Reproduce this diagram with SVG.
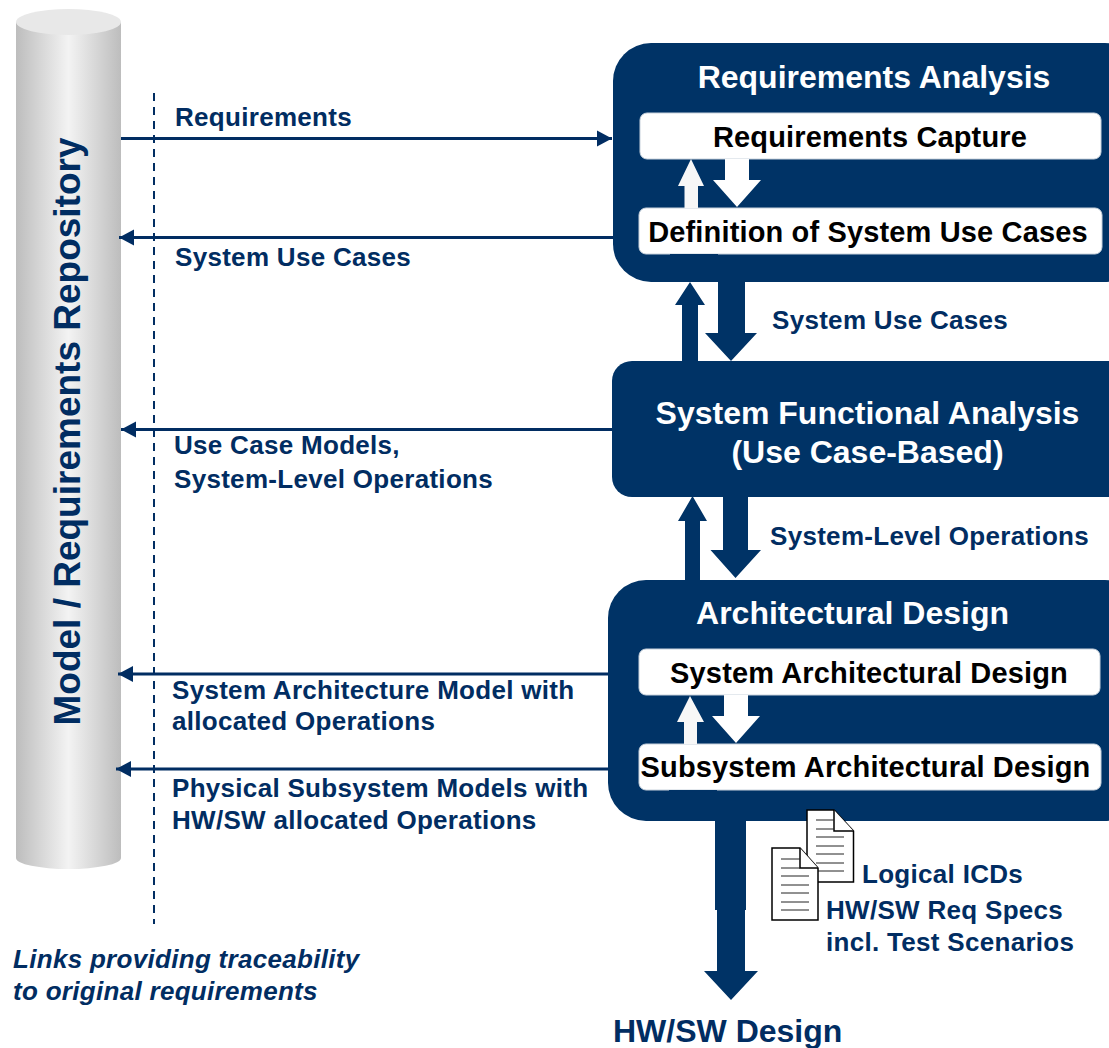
<svg xmlns="http://www.w3.org/2000/svg" width="1109" height="1048" viewBox="0 0 1109 1048">
<style>
text{font-family:"Liberation Sans",Arial,sans-serif;font-weight:bold}
.n{fill:#003366}
.lbl{fill:#012d62;font-size:26px;letter-spacing:.3px}
.t{fill:#fff;font-size:32px;text-anchor:middle}
.b{fill:#000;font-size:29px;letter-spacing:.15px;text-anchor:middle}
.w{fill:#fff;stroke:#c8d2dc;stroke-width:1}
.c{stroke:#012d62;stroke-width:3;fill:none}
.d{fill:#fff;stroke:#000;stroke-width:1.5}
.dl{stroke:#222;stroke-width:1}
</style>
<defs>
<linearGradient id="g" x1="0" x2="1" y1="0" y2="0"><stop offset="0" stop-color="#bdbdbd"/><stop offset=".5" stop-color="#f3f3f3"/><stop offset="1" stop-color="#bdbdbd"/></linearGradient>
<marker id="a" markerUnits="userSpaceOnUse" markerWidth="16" markerHeight="18" refX="15" refY="9" orient="auto-start-reverse"><path d="M0 1L15 9L0 17Z" fill="#012d62"/></marker>
</defs>
<rect width="1109" height="1048" fill="#fff"/>
<g id="repo">
<path d="M16 22V858A52.500 11 0 0 0 121 858V22Z" fill="url(#g)"/>
<ellipse cx="68.500" cy="22" rx="52.500" ry="13" fill="#e8e8e8"/>
<text transform="translate(80 725.500) rotate(-90)" fill="#012d62" font-size="37">Model / Requirements Repository</text>
</g>
<g id="connectors">
<path class="c" d="M121 138.500H612" marker-end="url(#a)"/>
<path class="c" d="M613 237.500H119" marker-end="url(#a)"/>
<path class="c" d="M612 429.500H121" marker-end="url(#a)"/>
<path class="c" d="M609 674H118" marker-end="url(#a)"/>
<path class="c" d="M609 769H116" marker-end="url(#a)"/>
<path d="M154 93V924" stroke="#012d62" stroke-width="2" stroke-dasharray="8 6" fill="none"/>
<path class="n" d="M682 361V305H675L690 282L705 305H698V361Z"/>
<path class="n" d="M718 282V333H705L731 361L757 333H745V282Z"/>
<path class="n" d="M685 580V521H678L692.500 496L707 521H700V580Z"/>
<path class="n" d="M723 497V550H710.500L735.500 578L761 550H748V497Z"/>
<path class="n" d="M715 821V910H717V971H704L731 1000L758 971H745V910H746V821Z"/>
</g>
<g id="requirements-analysis">
<rect class="n" x="613" y="43" width="530" height="239" rx="38"/>
<text class="t" x="874" y="88">Requirements Analysis</text>
<rect class="w" x="640" y="113" width="461" height="46" rx="7"/>
<text class="b" x="870" y="147">Requirements Capture</text>
<rect class="w" x="639" y="208" width="463" height="46" rx="7"/>
<text class="b" x="868" y="242">Definition of System Use Cases</text>
<path fill="#f7f7f7" d="M684.500 208V186H678L691 159L704 186H698V208Z"/>
<path fill="#fff" d="M725 159V180H713L737 207L761 180H749V159Z"/>
<path class="n" d="M670 254H718V255.500H670Z"/>
</g>
<g id="system-functional-analysis">
<rect class="n" x="612" y="361" width="530" height="136" rx="20"/>
<text class="t" x="867.500" y="424">System Functional Analysis</text>
<text class="t" x="867.500" y="463">(Use Case-Based)</text>
</g>
<g id="architectural-design">
<rect class="n" x="608" y="580" width="535" height="241" rx="38"/>
<text class="t" x="852.500" y="624">Architectural Design</text>
<rect class="w" x="639" y="649" width="461" height="46" rx="7"/>
<text class="b" x="869" y="683">System Architectural Design</text>
<rect class="w" x="639" y="744" width="462" height="46" rx="7"/>
<text class="b" x="865.500" y="777">Subsystem Architectural Design</text>
<path fill="#f7f7f7" d="M684 744V722H677L690 696L704 722H697V744Z"/>
<path fill="#fff" d="M724 695V716H712L736 743L760 716H748V695Z"/>
<path class="n" d="M669 790H717V791.500H669Z"/>
</g>
<g id="labels">
<text class="lbl" x="175" y="126">Requirements</text>
<text class="lbl" x="175" y="266">System Use Cases</text>
<text class="lbl" x="174" y="454">Use Case Models,</text>
<text class="lbl" x="174" y="488">System-Level Operations</text>
<text class="lbl" x="172" y="698.500">System Architecture Model with</text>
<text class="lbl" x="172" y="730">allocated Operations</text>
<text class="lbl" x="172" y="797">Physical Subsystem Models with</text>
<text class="lbl" x="172" y="829">HW/SW allocated Operations</text>
<text class="lbl" x="772" y="329">System Use Cases</text>
<text class="lbl" x="770" y="545">System-Level Operations</text>
<text class="lbl" x="862" y="883">Logical ICDs</text>
<text class="lbl" x="826" y="919">HW/SW Req Specs</text>
<text class="lbl" x="826" y="951">incl. Test Scenarios</text>
<text class="lbl" x="13" y="968" font-style="italic">Links providing traceability</text>
<text class="lbl" x="13" y="1000" font-style="italic">to original requirements</text>
<text x="613" y="1042" fill="#012d62" font-size="32">HW/SW Design</text>
</g>
<g id="documents">
<path class="d" d="M807 810H834L853.500 831V882H807Z"/>
<path class="d" d="M834 810V831H853.500"/>
<path class="dl" d="M816 820H834M816 829H834M816 837H844M816 846H844M816 854H844M816 863H844M816 871H844"/>
<path class="d" d="M772 848H800L818 868V920H772Z"/>
<path class="d" d="M800 848V868H818"/>
<path class="dl" d="M781 859H800M781 868H800M781 876H809M781 885H809M781 893H809M781 902H809M781 910H809"/>
</g>
</svg>
